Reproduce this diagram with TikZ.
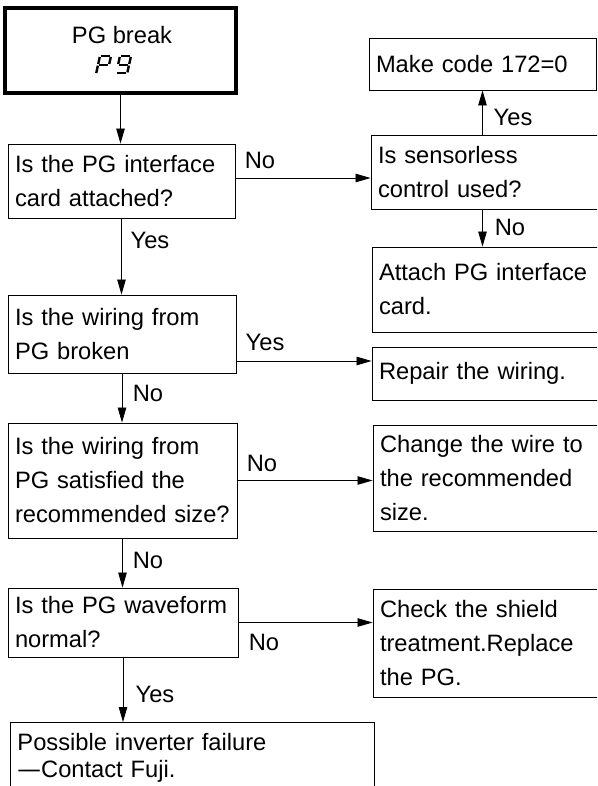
\documentclass[tikz,border=0pt]{standalone}
\usepackage{fontspec}
\setmainfont{Liberation Sans}
\usetikzlibrary{arrows.meta}

\tikzset{
  box/.style={draw, line width=0.9pt, align=left, inner xsep=7pt, inner ysep=0pt},
  startbox/.style={draw, line width=4pt, inner sep=0pt},
  lbl/.style={inner sep=0pt},
  arr/.style={line width=0.8pt, -{Triangle[length=15pt,width=8.5pt]}},
  seg/.style={line width=2.4pt}
}

\begin{document}
\begin{tikzpicture}[x=1pt, y=-1pt, font=\fontsize{23.7}{34}\selectfont]
\useasboundingbox (0,0) rectangle (597,786);
\clip (0,0) rectangle (597,786);
% Start box with the keypad display code
\node[startbox, minimum width=231pt, minimum height=85pt] (start) at (120.5,50.5) {};
\node[lbl] (title) at (122,35) {PG break};
\begin{scope}[shift={(100,56)}, xslant=0.22, seg]
  % P
  \draw (1,0) -- (10,0);
  \draw (0,1) -- (0,8);
  \draw (11,1) -- (11,8);
  \draw (1,8.8) -- (10,8.8);
  \draw (0,9.6) -- (0,17);
  % g
  \draw (21,0) -- (30,0);
  \draw (20,1) -- (20,8);
  \draw (31,1) -- (31,8);
  \draw (21,8.8) -- (30,8.8);
  \draw (31,9.6) -- (31,16.4);
  \draw (21,17.2) -- (30,17.2);
\end{scope}

% Questions on the left
\node[box, text width=213pt, minimum height=74pt] (q1) at (121.5,181)
  {Is the PG interface\\card attached?};
\node[box, text width=214pt, minimum height=78pt] (q2) at (122,334)
  {Is the wiring from\\PG broken};
\node[box, text width=215pt, minimum height=115pt] (q3) at (122.5,480.5)
  {Is the wiring from\\PG satisfied the\\recommended size?};
\node[box, text width=216pt, minimum height=69pt] (q4) at (123,622.5)
  {Is the PG waveform\\normal?};
\node[box, text width=350pt, inner ysep=11pt, anchor=north west] (fail) at (10,722)
  {Possible inverter failure\\[-7pt]{\fontspec{DejaVu Sans}\char"2014}Contact Fuji.};

% Actions on the right
\node[box, text width=213pt, minimum height=52pt] (make) at (482.5,64)
  {Make code 172=0};
\node[box, text width=225pt, minimum height=74pt] (sensor) at (490.5,172)
  {Is sensorless\\control used?};
\node[box, text width=224pt, minimum height=85pt] (attach) at (491,289.5)
  {Attach PG interface\\card.};
\node[box, text width=224pt, minimum height=53pt] (repair) at (491,373.5)
  {Repair the wiring.};
\node[box, text width=223pt, minimum height=106pt] (change) at (491.5,478)
  {Change the wire to\\the recommended\\size.};
\node[box, text width=223pt, minimum height=108pt] (check) at (491.5,643)
  {Check the shield\\treatment.Replace\\the PG.};

% Connectors
\coordinate (q1out) at ([yshift=3pt]q1.east);
\coordinate (q2out) at ([yshift=-27pt]q2.east);
\draw[arr] (start.south) -- (start.south |- q1.north);
\draw[arr] (q1out) -- (q1out -| sensor.west);
\draw[arr] (make.south |- sensor.north) -- (make.south);
\draw[arr] (make.south |- sensor.south) -- (make.south |- attach.north);
\draw[arr] (q1.south) -- (q1.south |- q2.north);
\draw[arr] (q2out) -- (q2out -| repair.west);
\draw[arr] (q2.south) -- (q2.south |- q3.north);
\draw[arr] (q3.east) -- (q3.east -| change.west);
\draw[arr] (q3.south) -- (q3.south |- q4.north);
\draw[arr] (q4.east) -- (q4.east -| check.west);
\draw[arr] (q4.south) -- (q4.south |- fail.north);

% Branch labels
\node[lbl] (l1) at (260,160) {No};
\node[lbl] (l2) at (513,117) {Yes};
\node[lbl] (l3) at (510,227) {No};
\node[lbl] (l4) at (150,240) {Yes};
\node[lbl] (l5) at (265,342) {Yes};
\node[lbl] (l6) at (148,393) {No};
\node[lbl] (l7) at (262,463) {No};
\node[lbl] (l8) at (148,560) {No};
\node[lbl] (l9) at (264,642) {No};
\node[lbl] (l10) at (155,694) {Yes};
\end{tikzpicture}
\end{document}
